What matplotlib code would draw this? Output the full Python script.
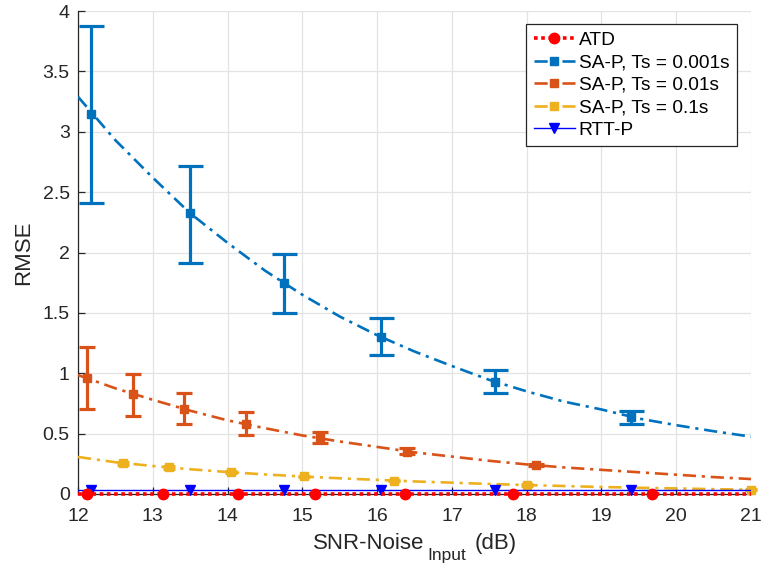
import matplotlib
matplotlib.use("Agg")
import matplotlib.pyplot as plt
from matplotlib.lines import Line2D

plt.rcParams['font.family'] = ['Liberation Sans', 'DejaVu Sans']

# ---- data -------------------------------------------------------------
curve_x = [12.0, 12.5, 13.0, 13.5, 14.0, 14.5, 15.0, 15.5, 16.0, 16.5,
           17.0, 17.5, 18.0, 18.5, 19.0, 19.5, 20.0, 20.5, 21.0]

sap_001_curve = [3.29, 2.93, 2.62, 2.325, 2.08, 1.85, 1.65, 1.47, 1.315, 1.18,
                 1.06, 0.945, 0.85, 0.765, 0.70, 0.625, 0.57, 0.52, 0.475]
sap_01_curve = [0.985, 0.875, 0.78, 0.69, 0.61, 0.545, 0.485, 0.435, 0.39, 0.345,
                0.31, 0.275, 0.245, 0.22, 0.20, 0.18, 0.16, 0.14, 0.124]
sap_1_curve = [0.307, 0.263, 0.232, 0.205, 0.182, 0.162, 0.145, 0.13, 0.117, 0.104,
               0.094, 0.083, 0.074, 0.066, 0.058, 0.052, 0.046, 0.040, 0.035]

# SA-P, Ts = 0.001s : measured points with min / max spread
sap_001_x = [12.17, 13.50, 14.75, 16.05, 17.57, 19.40]
sap_001_y = [3.145, 2.325, 1.745, 1.30, 0.93, 0.635]
sap_001_lo = [2.41, 1.915, 1.497, 1.15, 0.84, 0.577]
sap_001_hi = [3.876, 2.72, 1.99, 1.46, 1.03, 0.69]

# SA-P, Ts = 0.01s
sap_01_x = [12.12, 12.73, 13.42, 14.24, 15.23, 16.40, 18.13]
sap_01_y = [0.958, 0.826, 0.70, 0.58, 0.46, 0.35, 0.24]
sap_01_lo = [0.704, 0.646, 0.58, 0.49, 0.42, 0.33, 0.23]
sap_01_hi = [1.22, 0.994, 0.84, 0.68, 0.51, 0.38, 0.25]

# SA-P, Ts = 0.1s
sap_1_x = [12.60, 13.22, 14.05, 15.02, 16.23, 18.00, 21.00]
sap_1_y = [0.255, 0.22, 0.18, 0.145, 0.11, 0.074, 0.035]
sap_1_lo = [0.243, 0.21, 0.172, 0.138, 0.104, 0.069, 0.031]
sap_1_hi = [0.267, 0.23, 0.188, 0.152, 0.116, 0.079, 0.039]

# ATD
atd_line_x = [12.0, 21.0]
atd_line_y = [0.003, 0.003]
atd_x = [12.12, 13.14, 14.14, 15.17, 16.37, 17.82, 19.67]
atd_y = [0.003, 0.003, 0.003, 0.003, 0.003, 0.003, 0.003]

# RTT-P
rtt_line_x = [12.0, 21.0]
rtt_line_y = [0.035, 0.035]
rtt_x = [12.17, 13.50, 14.75, 16.05, 17.57, 19.40]
rtt_y = [0.035, 0.035, 0.035, 0.035, 0.035, 0.035]

x_ticks = [12, 13, 14, 15, 16, 17, 18, 19, 20, 21]
y_ticks = [0, 0.5, 1, 1.5, 2, 2.5, 3, 3.5, 4]
y_tick_labels = ['0', '0.5', '1', '1.5', '2', '2.5', '3', '3.5', '4']
legend_labels = ['ATD', 'SA-P, Ts = 0.001s', 'SA-P, Ts = 0.01s',
                 'SA-P, Ts = 0.1s', 'RTT-P']

C_BLUE = '#0072BD'
C_ORANGE = '#D95319'
C_YELLOW = '#EDB120'
C_RED = '#FF0000'
C_RTT = '#0000FF'
AX_COL = '#262626'

DASHDOT = (0, (5, 2.2, 1.2, 2.2))
DOTTED = (0, (1, 1))

# ---- figure -----------------------------------------------------------
fig = plt.figure(figsize=(7.63, 5.69), dpi=100)
ax = fig.add_axes([78 / 763, 1 - 494 / 569, 673 / 763, 483 / 569])

# fitted curves
ax.plot(curve_x, sap_001_curve, color=C_BLUE, lw=1.9, ls=DASHDOT, zorder=3)
ax.plot(curve_x, sap_01_curve, color=C_ORANGE, lw=1.9, ls=DASHDOT, zorder=3)
ax.plot(curve_x, sap_1_curve, color=C_YELLOW, lw=1.9, ls=DASHDOT, zorder=3)


def spread(y, lo, hi):
    return [[a - b for a, b in zip(y, lo)], [c - a for a, c in zip(y, hi)]]


ax.errorbar(sap_001_x, sap_001_y, yerr=spread(sap_001_y, sap_001_lo, sap_001_hi),
            fmt='s', color=C_BLUE, ms=6, elinewidth=2.3, capsize=9, capthick=2.3,
            zorder=4, clip_on=False)
ax.errorbar(sap_01_x, sap_01_y, yerr=spread(sap_01_y, sap_01_lo, sap_01_hi),
            fmt='s', color=C_ORANGE, ms=6, elinewidth=2.3, capsize=5.8, capthick=2.3,
            zorder=4, clip_on=False)
ax.errorbar(sap_1_x, sap_1_y, yerr=spread(sap_1_y, sap_1_lo, sap_1_hi),
            fmt='s', color=C_YELLOW, ms=6, elinewidth=2.3, capsize=4.5, capthick=2.3,
            zorder=4, clip_on=False)

# RTT-P
ax.plot(rtt_line_x, rtt_line_y, color=C_RTT, lw=1.0, zorder=5)
ax.plot(rtt_x, rtt_y, 'v', color=C_RTT, ms=7, zorder=5, clip_on=False)

# ATD
ax.plot(atd_line_x, atd_line_y, color=C_RED, lw=2.6, ls=DOTTED, zorder=6,
        clip_on=False)
ax.plot(atd_x, atd_y, 'o', color=C_RED, ms=7.5, zorder=6, clip_on=False)

# axes styling
ax.set_xlim(12, 21)
ax.set_ylim(0, 4)
ax.set_xticks(x_ticks)
ax.set_yticks(y_ticks)
ax.set_yticklabels(y_tick_labels)
ax.grid(True, color='#e3e3e3', lw=0.9)
ax.set_axisbelow(True)
for s in ('top', 'right'):
    ax.spines[s].set_visible(False)
for s in ('left', 'bottom'):
    ax.spines[s].set_color(AX_COL)
    ax.spines[s].set_linewidth(0.9)
ax.tick_params(direction='in', length=5, width=0.9, colors=AX_COL, labelsize=14)
ax.tick_params(axis='x', pad=10)
ax.tick_params(axis='y', pad=6)

ax.set_ylabel('RMSE', fontsize=16, color=AX_COL, labelpad=6)

# x-axis title with a lowered subscript
t_main = fig.text(313 / 763, 1 - 549 / 569, 'SNR-Noise', fontsize=16, color=AX_COL,
                  ha='left', va='baseline')
t_sub = ax.annotate('Input', xy=(1, 0), xycoords=t_main, xytext=(2.5, -4.5),
                    textcoords='offset points', fontsize=12.5, color=AX_COL,
                    ha='left', va='baseline', annotation_clip=False)
ax.annotate('(dB)', xy=(1, 0), xycoords=t_sub, xytext=(5.5, 10.0),
            textcoords='offset points', fontsize=16, color=AX_COL,
            ha='left', va='baseline', annotation_clip=False)

# legend
handles = [
    Line2D([], [], color=C_RED, lw=2.6, ls=DOTTED, marker='o', ms=7.5),
    Line2D([], [], color=C_BLUE, lw=1.9, ls=DASHDOT, marker='s', ms=6),
    Line2D([], [], color=C_ORANGE, lw=1.9, ls=DASHDOT, marker='s', ms=6),
    Line2D([], [], color=C_YELLOW, lw=1.9, ls=DASHDOT, marker='s', ms=6),
    Line2D([], [], color=C_RTT, lw=1.0, marker='v', ms=7),
]
leg = ax.legend(handles, legend_labels, loc='upper right',
                bbox_to_anchor=(0.979, 0.973), borderaxespad=0, fancybox=False,
                framealpha=1, edgecolor=AX_COL, fontsize=13.8, handlelength=2.15,
                handletextpad=0.2, borderpad=0.4, labelspacing=0.26)
leg.get_frame().set_linewidth(0.9)

fig.savefig('out.png', dpi=100)
